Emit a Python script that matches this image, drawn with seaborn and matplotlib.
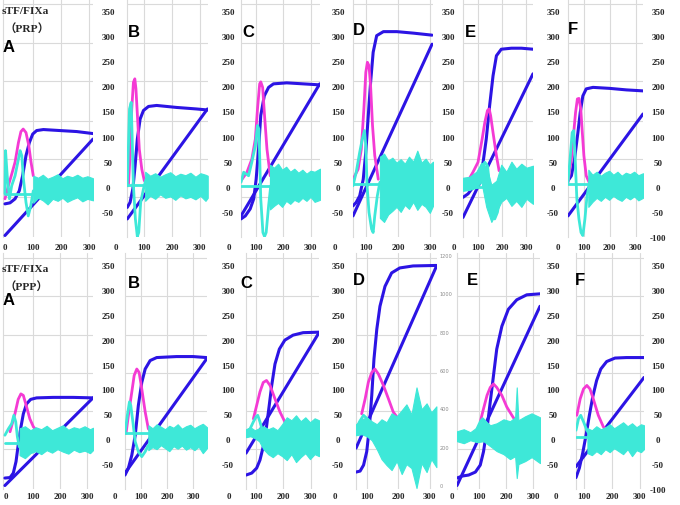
"""
Panels A-F for sTF/FIXa in PRP (top row) and PPP (bottom row).

Each panel: thrombin curve and its closing line (blue), peak (magenta),
first derivative with its noisy tail (cyan).
"""

import matplotlib
matplotlib.use("Agg")
import matplotlib.pyplot as plt
import pandas as pd
import seaborn as sns


W, H = 680, 506
BLUE = "#2c14e4"
PINK = "#f43ad4"
CYAN = "#3ee8d8"
GRID = "#dadada"

Y_TICKS = [-50, 0, 50, 100, 150, 200, 250, 300, 350]
GRID_Y = [-20, 56, 132, 210, 287, 364]
X_TICKS = [0, 100, 200, 300]
D_SECOND_TICKS = [0, 200, 400, 600, 800, 1000, 1200]

# ---- PRP row -------------------------------------------------------------
PRP_A_BLUE = [(0, -34), (18, -32), (36, -24), (51, -8), (63, 22), (75, 62), (87, 88),
              (99, 105), (113, 112), (137, 114), (196, 112), (256, 110), (314, 106)]
PRP_A_LINE = [(0, -97), (314, 95)]
PRP_A_PINK = [(0, -24), (12, 2), (24, 25), (36, 49), (48, 88), (57, 110), (65, 115),
              (75, 108), (85, 82), (93, 49), (101, 22)]
PRP_A_CYAN = [(0, -14), (2, 72), (8, 22), (16, -24), (24, 2), (36, 22), (48, 55), (54, 72),
              (60, 62), (66, 15), (75, -31), (83, -58), (92, -38), (101, -8)]
PRP_A_BASE = [(0, -14), (101, -14)]
PRP_A_BAND = [(101, 22, -32), (118, 18, -22), (135, 24, -27), (152, 16, -35), (170, 20, -24),
              (188, 25, -28), (205, 17, -22), (222, 22, -30), (240, 19, -25), (258, 24, -21),
              (276, 18, -29), (294, 21, -24), (314, 17, -27)]

PRP_B_BLUE = [(40, -41), (50, -31), (60, -4), (68, 42), (76, 95), (86, 135), (98, 152),
              (116, 160), (145, 162), (217, 158), (288, 155), (327, 153)]
PRP_B_LINE = [(40, -64), (327, 155)]
PRP_B_PINK = [(44, 2), (50, 62), (56, 155), (62, 208), (67, 215), (71, 195), (77, 135),
              (83, 75), (92, 35), (101, 12)]
PRP_B_CYAN = [(40, 2), (48, 155), (54, 168), (57, 108), (62, 2), (69, -64), (76, -99),
              (81, -91), (88, -31), (98, -4), (107, 15)]
PRP_B_BASE = [(40, 4), (110, 4)]
PRP_B_BAND = [(104, 30, -28), (122, 22, -18), (140, 27, -24), (158, 20, -15), (176, 25, -22),
              (194, 29, -19), (212, 21, -26), (230, 26, -17), (248, 23, -23), (266, 28, -20),
              (284, 20, -25), (302, 27, -18), (320, 24, -28), (328, 22, -22)]

PRP_C_BLUE = [(43, -64), (59, -58), (77, -44), (90, -24), (99, 15), (108, 75), (116, 142),
              (129, 181), (145, 198), (163, 205), (212, 207), (273, 205), (334, 203)]
PRP_C_LINE = [(43, -58), (334, 205)]
PRP_C_PINK = [(43, 12), (65, 29), (83, 55), (96, 95), (104, 155), (112, 205), (116, 209),
              (123, 198), (130, 142), (139, 75), (151, 22)]
PRP_C_CYAN = [(43, 9), (53, 29), (71, 22), (83, 49), (96, 82), (104, 122), (109, 115),
              (112, 62), (116, -24), (124, -91), (130, -99), (136, -91), (145, -38), (153, 2)]
PRP_C_BASE = [(43, 1), (150, 1)]
PRP_C_BAND = [(150, 44, -45), (165, 38, -38), (180, 46, -32), (195, 34, -40), (210, 40, -28),
              (225, 30, -34), (240, 36, -26), (255, 28, -30), (270, 34, -22), (285, 26, -28),
              (300, 32, -20), (315, 30, -30), (335, 36, -26)]

PRP_D_BLUE = [(58, -38), (68, -31), (79, -18), (90, 15), (98, 69), (105, 135), (113, 208),
              (121, 268), (132, 301), (153, 309), (195, 309), (247, 306), (305, 302)]
PRP_D_LINE = [(58, -58), (305, 284)]
PRP_D_PINK = [(58, 15), (74, 35), (84, 75), (92, 155), (98, 228), (103, 248), (108, 241),
              (113, 201), (119, 122), (126, 62), (137, 15)]
PRP_D_CYAN = [(58, 2), (68, 29), (79, 69), (87, 95), (94, 112), (98, 82), (102, 2),
              (108, -51), (116, -84), (121, -91), (126, -58), (134, -18), (142, 9)]
PRP_D_BASE = [(58, 6), (142, 6)]
PRP_D_BAND = [(142, 60, -62), (155, 66, -70), (168, 52, -55), (181, 58, -48), (194, 48, -40),
              (207, 55, -50), (220, 46, -36), (233, 60, -44), (246, 50, -30), (259, 72, -46),
              (272, 48, -34), (285, 56, -40), (298, 44, -52), (308, 50, -38)]

PRP_E_BLUE = [(38, -21), (59, -14), (79, -1), (100, 15), (121, 49), (134, 95), (148, 162),
              (162, 221), (176, 261), (196, 274), (238, 276), (279, 276), (327, 274)]
PRP_E_LINE = [(38, -61), (327, 225)]
PRP_E_PINK = [(38, 15), (59, 12), (79, 29), (100, 49), (117, 95), (128, 128), (139, 152),
              (146, 155), (152, 142), (162, 108), (176, 62), (187, 32)]
PRP_E_CYAN = [(38, 6), (65, 12), (93, 22), (114, 35), (128, 49), (139, 42), (148, 2),
              (158, -38), (169, -64), (180, -51), (190, -24)]
PRP_E_BASE = [(38, -1), (190, -1)]
PRP_E_BAND = [(38, 18, -8), (65, 20, -6), (93, 30, -2), (114, 48, 10), (134, 40, -40),
              (155, 4, -70), (176, 12, -50), (196, 44, -30), (217, 30, -22), (238, 50, -38),
              (258, 36, -28), (279, 46, -40), (300, 38, -24), (327, 42, -34)]

PRP_F_BLUE = [(40, 12), (53, 22), (65, 55), (78, 108), (87, 148), (97, 181), (110, 195),
              (136, 198), (200, 196), (264, 193), (328, 191)]
PRP_F_LINE = [(40, -58), (328, 145)]
PRP_F_PINK = [(40, 9), (53, 55), (62, 108), (69, 148), (76, 175), (82, 176), (89, 155),
              (95, 108), (101, 62), (110, 22), (121, 9)]
PRP_F_CYAN = [(40, 9), (49, 62), (56, 108), (62, 112), (67, 62), (74, -24), (82, -64),
              (90, -91), (97, -97), (105, -64), (113, -18), (123, 9)]
PRP_F_BASE = [(40, 6), (123, 6)]
PRP_F_BAND = [(118, 34, -40), (134, 24, -30), (150, 30, -22), (166, 22, -28), (182, 28, -20),
              (198, 32, -26), (214, 24, -18), (230, 30, -24), (246, 22, -28), (262, 28, -20),
              (278, 25, -25), (294, 30, -19), (310, 23, -27), (328, 27, -22)]

# ---- PPP row -------------------------------------------------------------
PPP_A_BLUE = [(-4, -78), (15, -77), (27, -68), (37, -45), (45, -12), (54, 21), (64, 51),
              (76, 71), (91, 80), (113, 83), (174, 84), (248, 84), (321, 83)]
PPP_A_LINE = [(-4, -93), (321, 83)]
PPP_A_PINK = [(15, 15), (33, 51), (45, 80), (55, 91), (64, 88), (76, 65), (88, 41),
              (101, 25), (115, 16)]
PPP_A_CYAN = [(-4, 8), (9, 21), (21, 31), (29, 48), (36, 35), (42, 5), (49, -15), (58, -18)]
PPP_A_BASE = [(-4, -8), (115, -8)]
PPP_A_BAND = [(50, 22, -32), (70, 26, -38), (90, 18, -28), (110, 24, -24), (130, 20, -30),
              (150, 27, -22), (170, 18, -27), (190, 23, -20), (210, 28, -25), (230, 19, -29),
              (250, 24, -21), (270, 21, -26), (290, 26, -23), (310, 20, -28), (321, 23, -22)]

PPP_B_BLUE = [(40, -72), (53, -58), (66, -32), (79, 8), (91, 68), (104, 114), (117, 141),
              (136, 158), (161, 164), (237, 166), (300, 166), (351, 164)]
PPP_B_LINE = [(40, -68), (351, 161)]
PPP_B_PINK = [(44, 12), (53, 48), (66, 95), (75, 128), (85, 141), (94, 134), (104, 101),
              (117, 55), (129, 21), (146, 12)]
PPP_B_CYAN = [(40, 12), (49, 48), (57, 75), (62, 68), (70, 35), (79, -5), (91, -25),
              (104, -35), (117, -25), (129, -12)]
PPP_B_BASE = [(40, 12), (146, 12)]
PPP_B_BAND = [(129, 28, -22), (145, 22, -16), (161, 30, -20), (177, 25, -12), (193, 20, -18),
              (209, 27, -24), (225, 23, -14), (241, 30, -19), (257, 21, -13), (273, 26, -21),
              (289, 29, -16), (305, 22, -22), (321, 27, -15), (337, 31, -28), (353, 24, -18)]

PPP_C_BLUE = [(64, -72), (85, -68), (103, -58), (115, -42), (127, -15), (139, 25), (149, 68),
              (158, 108), (170, 151), (186, 181), (206, 199), (236, 209), (273, 214), (331, 215)]
PPP_C_LINE = [(64, -28), (331, 214)]
PPP_C_PINK = [(91, 41), (103, 68), (115, 95), (127, 114), (139, 118), (152, 108), (170, 81),
              (188, 55), (206, 35), (224, 18)]
PPP_C_CYAN = [(64, 15), (79, 21), (91, 35), (101, 45), (107, 48), (115, 35), (125, 15),
              (133, 21), (145, 18)]
PPP_C_BASE = [(64, 8), (127, 8)]
PPP_C_BAND = [(64, 20, 4), (80, 24, 6), (96, 18, 2), (112, 22, -4), (128, 26, -20),
              (145, 20, -30), (162, 24, -36), (179, 18, -28), (196, 30, -34), (213, 44, -42),
              (230, 38, -30), (247, 48, -46), (264, 36, -36), (281, 44, -28), (298, 34, -40),
              (315, 42, -30), (331, 38, -34)]

PPP_D_BLUE = [(66, -66), (79, -64), (90, -52), (100, -25), (108, 21), (116, 88), (123, 161),
              (132, 221), (142, 267), (158, 307), (179, 334), (205, 344), (247, 348), (321, 349)]
PPP_D_LINE = [(66, -18), (321, 347)]
PPP_D_PINK = [(84, 51), (95, 81), (105, 114), (116, 134), (126, 141), (137, 131), (153, 108),
              (169, 81), (184, 55), (200, 41), (211, 35)]
PPP_D_CYAN = [(66, 18), (77, 35), (90, 48), (102, 41), (116, 28), (126, 21)]
PPP_D_BASE = [(66, 15), (142, 15)]
PPP_D_BAND = [(66, 30, 8), (84, 40, 10), (100, 44, 6), (116, 36, -2), (132, 30, -20),
              (147, 40, -40), (163, 34, -52), (179, 52, -62), (195, 46, -44), (211, 58, -70),
              (226, 70, -50), (242, 50, -58), (258, 104, -98), (274, 60, -48), (290, 72, -66),
              (305, 54, -40), (321, 66, -56)]

PPP_E_BLUE = [(18, -78), (37, -74), (61, -72), (86, -66), (104, -52), (116, -25), (129, 21),
              (141, 75), (153, 128), (165, 181), (184, 227), (208, 261), (239, 280),
              (276, 290), (325, 292)]
PPP_E_LINE = [(18, -93), (325, 267)]
PPP_E_PINK = [(104, 35), (116, 61), (129, 88), (141, 104), (153, 111), (165, 104), (184, 88),
              (202, 65), (221, 48), (233, 38)]
PPP_E_CYAN = [(92, 21), (104, 35), (113, 41), (123, 35), (135, 21), (147, 12)]
PPP_E_BASE = [(18, 8), (135, 8)]
PPP_E_BAND = [(18, 16, -4), (43, 20, -8), (67, 14, -2), (92, 24, -6), (116, 40, -4),
              (141, 28, -14), (165, 32, -24), (190, 40, -30), (214, 36, -40), (233, 44, -34),
              (239, 104, -78), (245, 38, -50), (270, 46, -44), (294, 52, -36), (325, 44, -48)]

PPP_F_BLUE = [(71, -77), (83, -58), (95, -28), (107, 8), (119, 48), (131, 85), (145, 118),
              (160, 141), (181, 156), (211, 163), (252, 164), (315, 164)]
PPP_F_LINE = [(71, -55), (315, 124)]
PPP_F_PINK = [(74, 48), (86, 81), (98, 101), (110, 108), (121, 101), (133, 81), (151, 48),
              (169, 25), (193, 15)]
PPP_F_CYAN = [(71, 18), (80, 41), (88, 48), (98, 35), (110, 18), (121, 8), (133, -5), (145, -12)]
PPP_F_BASE = [(71, 5), (145, 5)]
PPP_F_BAND = [(112, 22, -28), (128, 18, -32), (144, 26, -24), (160, 20, -30), (176, 24, -20),
              (192, 30, -26), (208, 22, -18), (224, 28, -24), (240, 34, -30), (256, 26, -20),
              (272, 32, -34), (288, 24, -22), (304, 30, -26), (315, 28, -20)]


def panel(row, letter, box, xlim, gap, letter_at, series, yticks="normal"):
    """box = (left px, right px); letter_at = (left px, top px)."""
    return dict(row=row, letter=letter, box=box, xlim=xlim, gap=gap,
                letter_at=letter_at, series=series, yticks=yticks)


PANELS = [
    panel(0, "A", (3, 93), (-7, 314), 7, (3, 40),
          (PRP_A_BLUE, PRP_A_LINE, PRP_A_PINK, PRP_A_CYAN, PRP_A_BASE, PRP_A_BAND)),
    panel(0, "B", (127, 208), (39, 329), 12, (128, 25),
          (PRP_B_BLUE, PRP_B_LINE, PRP_B_PINK, PRP_B_CYAN, PRP_B_BASE, PRP_B_BAND)),
    panel(0, "C", (241, 320), (43, 335), 10, (242, 25),
          (PRP_C_BLUE, PRP_C_LINE, PRP_C_PINK, PRP_C_CYAN, PRP_C_BASE, PRP_C_BAND)),
    panel(0, "D", (353, 433), (58, 308), 7, (353, 23),
          (PRP_D_BLUE, PRP_D_LINE, PRP_D_PINK, PRP_D_CYAN, PRP_D_BASE, PRP_D_BAND)),
    panel(0, "E", (463, 533), (38, 327), 12, (465, 25),
          (PRP_E_BLUE, PRP_E_LINE, PRP_E_PINK, PRP_E_CYAN, PRP_E_BASE, PRP_E_BAND)),
    panel(0, "F", (568, 643), (40, 328), 7, (568, 22),
          (PRP_F_BLUE, PRP_F_LINE, PRP_F_PINK, PRP_F_CYAN, PRP_F_BASE, PRP_F_BAND), "with_minus100"),
    panel(1, "A", (3, 93), (-11, 321), 7, (3, 293),
          (PPP_A_BLUE, PPP_A_LINE, PPP_A_PINK, PPP_A_CYAN, PPP_A_BASE, PPP_A_BAND)),
    panel(1, "B", (125, 207), (40, 353), 13, (128, 276),
          (PPP_B_BLUE, PPP_B_LINE, PPP_B_PINK, PPP_B_CYAN, PPP_B_BASE, PPP_B_BAND)),
    panel(1, "C", (246, 319), (64, 331), 11, (240, 276),
          (PPP_C_BLUE, PPP_C_LINE, PPP_C_PINK, PPP_C_CYAN, PPP_C_BASE, PPP_C_BAND)),
    panel(1, "D", (356, 437), (66, 323), 3, (353, 273),
          (PPP_D_BLUE, PPP_D_LINE, PPP_D_PINK, PPP_D_CYAN, PPP_D_BASE, PPP_D_BAND), "secondary"),
    panel(1, "E", (457, 540), (18, 325), 5, (467, 273),
          (PPP_E_BLUE, PPP_E_LINE, PPP_E_PINK, PPP_E_CYAN, PPP_E_BASE, PPP_E_BAND)),
    panel(1, "F", (576, 644), (71, 315), 6, (575, 273),
          (PPP_F_BLUE, PPP_F_LINE, PPP_F_PINK, PPP_F_CYAN, PPP_F_BASE, PPP_F_BAND), "with_minus100"),
]

# pixel frame of each row: top edge, height, gap to the x labels
ROWS = {0: (0, 238, 10), 1: (254, 236, 7)}
SERIF = dict(family="Liberation Serif", weight="bold", size=6.5)


def line(ax, points, color, width):
    df = pd.DataFrame(points, columns=["x", "y"])
    sns.lineplot(data=df, x="x", y="y", sort=False, estimator=None, color=color,
                 linewidth=width, ax=ax, solid_capstyle="round", zorder=3)


def draw_panel(fig, p):
    top, height, label_gap = ROWS[p["row"]]
    left, right = p["box"]
    ax = fig.add_axes([left / W, 1 - (top + height) / H, (right - left) / W, height / H])
    blue, closing, pink, cyan, base, band = p["series"]

    line(ax, blue, BLUE, 2.2)
    line(ax, closing, BLUE, 2.2)
    line(ax, pink, PINK, 2.0)
    band_df = pd.DataFrame(band, columns=["x", "hi", "lo"])
    ax.fill_between(band_df["x"], band_df["lo"], band_df["hi"], color=CYAN, lw=0.8, zorder=4)
    line(ax, base, CYAN, 2.0)
    line(ax, cyan, CYAN, 2.0)
    for artist in ax.lines[-2:]:
        artist.set_zorder(5)

    ax.set_xlim(*p["xlim"])
    ax.set_ylim(-100, 374)
    ax.set_xlabel("")
    ax.set_ylabel("")
    for side in ("top", "right", "bottom"):
        ax.spines[side].set_visible(False)
    ax.spines["left"].set_color(GRID)
    ax.spines["left"].set_linewidth(0.8)

    ax.set_xticks([t for t in (100, 200, 300) if p["xlim"][0] < t < p["xlim"][1]])
    ax.tick_params(axis="x", length=0, labelbottom=False)
    ax.grid(axis="x", color=GRID, lw=0.8)

    ax.yaxis.tick_right()
    ax.set_yticks(GRID_Y, minor=True)
    ax.grid(axis="y", which="minor", color=GRID, lw=0.8)
    ax.grid(axis="y", which="major", visible=False)
    ax.tick_params(axis="y", which="both", length=0)
    ax.set_axisbelow(True)

    if p["yticks"] == "secondary":
        ax.set_yticks([])
        ax2 = ax.twinx()
        # twinx moves the first axis' ticks to the left; switch them off again
        ax.tick_params(axis="y", which="both", left=False, right=False,
                       labelleft=False, labelright=False)
        ax2.set_ylim(-21, 1210)
        ax2.set_yticks(D_SECOND_TICKS)
        ax2.set_yticklabels([str(v) for v in D_SECOND_TICKS], fontsize=3.6, color="#8a8a8a")
        ax2.tick_params(axis="y", which="both", length=0, pad=p["gap"] / 1.39)
        for side in ax2.spines:
            ax2.spines[side].set_visible(False)
    else:
        ticks = ([-100] + Y_TICKS) if p["yticks"] == "with_minus100" else Y_TICKS
        ax.set_yticks(ticks)
        ax.set_yticklabels([str(v) for v in ticks], **SERIF)
        ax.tick_params(axis="y", which="both", length=0, pad=(p["gap"] + 8) / 1.39)
        for lbl in ax.get_yticklabels():
            lbl.set_horizontalalignment("center")

    for t in X_TICKS:
        if t <= p["xlim"][1] + 5:
            ax.text(t, -label_gap / height, str(t), transform=ax.get_xaxis_transform(),
                    ha="center", va="center", clip_on=False, **SERIF)

    lx, ly = p["letter_at"]
    fig.text(lx / W, 1 - ly / H, p["letter"], ha="left", va="top", fontsize=12,
             family="Liberation Sans", weight="bold", color="black")


def main():
    sns.set_style("white")
    fig = plt.figure(figsize=(W / 100, H / 100), dpi=100)
    for p in PANELS:
        draw_panel(fig, p)

    title_font = dict(family=["Liberation Serif", "Noto Sans CJK SC"], weight="bold", fontsize=8.2)
    fig.text(2 / W, 1 - 11 / H, "sTF/FIXa", ha="left", va="center", **title_font)
    fig.text(5 / W, 1 - 28 / H, "（PRP）", ha="left", va="center", **title_font)
    fig.text(2 / W, 1 - 270 / H, "sTF/FIXa", ha="left", va="center", **title_font)
    fig.text(5 / W, 1 - 286 / H, "（PPP）", ha="left", va="center", **title_font)

    fig.savefig("out.png", dpi=100, facecolor="white")
    plt.close(fig)


if __name__ == "__main__":
    main()
